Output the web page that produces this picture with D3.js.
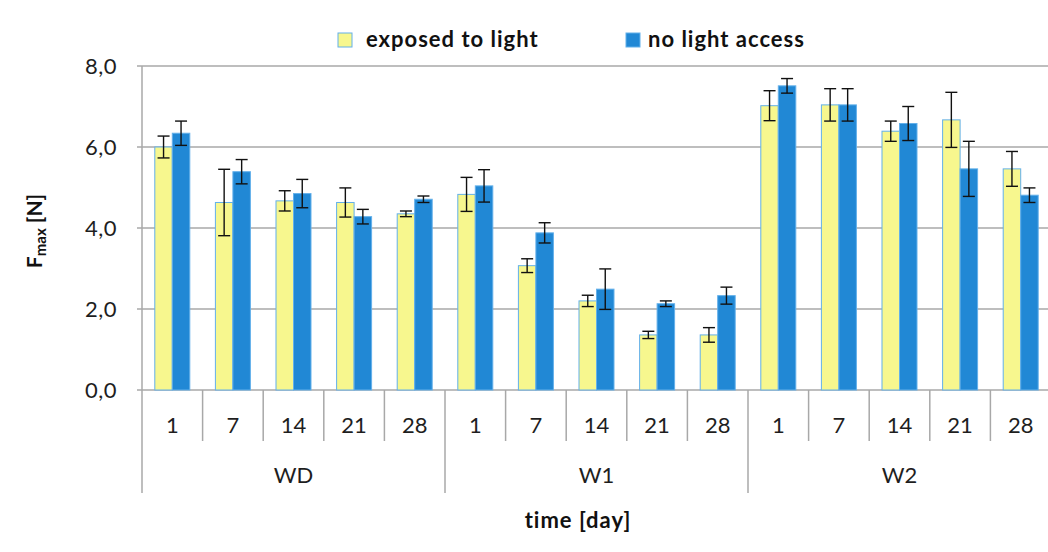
<!DOCTYPE html>
<html>
<head>
<meta charset="utf-8">
<script src="https://cdn.jsdelivr.net/npm/d3@7"></script>
<style>
  html, body { margin: 0; padding: 0; background: #fff; }
  svg { display: block; font-family: Lato, "Open Sans", sans-serif; }
</style>
</head>
<body>
<svg id="chart" width="1048" height="552"></svg>
<script>
// ---- data ----
const groups = ["WD", "W1", "W2"];
const days = ["1", "7", "14", "21", "28"];
const seriesNames = ["exposed to light", "no light access"];
const exposed    = [6.00, 4.63, 4.67, 4.63, 4.35, 4.83, 3.07, 2.20, 1.36, 1.36, 7.02, 7.04, 6.39, 6.67, 5.46];
const exposedErr = [0.27, 0.82, 0.25, 0.36, 0.07, 0.42, 0.17, 0.14, 0.09, 0.18, 0.37, 0.40, 0.25, 0.68, 0.43];
const dark       = [6.34, 5.39, 4.85, 4.28, 4.71, 5.04, 3.88, 2.49, 2.13, 2.33, 7.51, 7.04, 6.58, 5.46, 4.81];
const darkErr    = [0.30, 0.30, 0.35, 0.18, 0.08, 0.40, 0.25, 0.50, 0.07, 0.21, 0.18, 0.40, 0.42, 0.68, 0.18];
const yTicks = [0, 2, 4, 6, 8];

(function () {
// ---- layout ----
const svg = d3.select("#chart");
const pL = 142, pR = 1051, pT = 66, pB = 390;
const gridColor = "#a8a8a8";
const colors = ["#f7f78e", "#2188d5"];
const strokeColor = "#63b0ea";

const slots = [];
groups.forEach(g => days.forEach(d => slots.push(g + "|" + d)));

const x = d3.scaleBand().domain(slots).range([pL, pR]).padding(0);
const xs = d3.scaleBand().domain([0, 1]).range([12.8, 47.8]).padding(0);
const y = d3.scaleLinear().domain([0, 8]).range([pB, pT]);
const fmt = v => d3.format(".1f")(v).replace(".", ",");

// gridlines
svg.append("g").selectAll("line").data(yTicks).join("line")
  .attr("x1", pL - 5).attr("x2", pR)
  .attr("y1", d => y(d)).attr("y2", d => y(d))
  .attr("stroke", gridColor).attr("stroke-width", 1.5);

// y tick labels
svg.append("g").selectAll("text").data(yTicks).join("text")
  .attr("x", 117).attr("y", d => y(d)).attr("dy", "0.35em")
  .attr("text-anchor", "end").attr("font-size", 22).attr("letter-spacing", 0.5).attr("fill", "#1e1e1e")
  .text(fmt);

// left axis line (extends down to group label area)
svg.append("line").attr("x1", pL).attr("x2", pL)
  .attr("y1", pT).attr("y2", 493).attr("stroke", gridColor).attr("stroke-width", 1.5);

// category separators
const bw = x.bandwidth();
svg.append("g").selectAll("line").data(slots.map((s, i) => i + 1)).join("line")
  .attr("x1", i => pL + i * bw).attr("x2", i => pL + i * bw)
  .attr("y1", pB)
  .attr("y2", i => (i % days.length === 0) ? 493 : 441)
  .attr("stroke", gridColor).attr("stroke-width", 1.5);

// bars
const rows = slots.map((s, i) => ({ slot: s, vals: [exposed[i], dark[i]], errs: [exposedErr[i], darkErr[i]] }));
const barData = [];
rows.forEach(r => r.vals.forEach((v, k) => barData.push({ slot: r.slot, k, v, e: r.errs[k] })));

svg.append("g").selectAll("rect").data(barData).join("rect")
  .attr("x", d => x(d.slot) + xs(d.k))
  .attr("width", xs.bandwidth())
  .attr("y", d => y(d.v))
  .attr("height", d => y(0) - y(d.v))
  .attr("fill", d => colors[d.k])
  .attr("stroke", strokeColor).attr("stroke-width", 1);

// error bars
const eb = svg.append("g").attr("stroke", "#111").attr("stroke-width", 1.4);
barData.forEach(d => {
  const cx = x(d.slot) + xs(d.k) + xs.bandwidth() / 2;
  eb.append("line").attr("x1", cx).attr("x2", cx).attr("y1", y(d.v + d.e)).attr("y2", y(d.v - d.e));
  eb.append("line").attr("x1", cx - 6).attr("x2", cx + 6).attr("y1", y(d.v + d.e)).attr("y2", y(d.v + d.e));
  eb.append("line").attr("x1", cx - 6).attr("x2", cx + 6).attr("y1", y(d.v - d.e)).attr("y2", y(d.v - d.e));
});

// day labels
svg.append("g").selectAll("text").data(slots).join("text")
  .attr("x", s => x(s) + bw / 2).attr("y", 433)
  .attr("text-anchor", "middle").attr("font-size", 22).attr("fill", "#1e1e1e")
  .text(s => s.split("|")[1]);

// group labels
svg.append("g").selectAll("text").data(groups).join("text")
  .attr("x", (g, i) => pL + (i + 0.5) * bw * days.length).attr("y", 483)
  .attr("text-anchor", "middle").attr("font-size", 22).attr("fill", "#1e1e1e")
  .text(g => g);

// x axis title
svg.append("text").attr("x", 578).attr("y", 528)
  .attr("text-anchor", "middle").attr("font-size", 22).attr("letter-spacing", 1).attr("font-weight", "bold").attr("fill", "#111")
  .text("time [day]");

// y axis title
const yt = svg.append("text").attr("transform", "translate(42,231) rotate(-90)")
  .attr("text-anchor", "middle").attr("font-size", 21).attr("font-weight", "bold").attr("fill", "#111");
yt.append("tspan").text("F");
yt.append("tspan").attr("font-size", 15).attr("dy", 4).text("max");
yt.append("tspan").attr("dy", -4).text(" [N]");

// legend
const legendX = [338, 626];
const legendTextX = [366, 648];
const lg = svg.append("g");
seriesNames.forEach((name, k) => {
  lg.append("rect").attr("x", legendX[k]).attr("y", 33).attr("width", 14).attr("height", 14)
    .attr("fill", colors[k]).attr("stroke", strokeColor).attr("stroke-width", 1);
  lg.append("text").attr("x", legendTextX[k]).attr("y", 47)
    .attr("font-size", 22).attr("letter-spacing", 1).attr("font-weight", "bold").attr("fill", "#111").text(name);
});
})();
</script>
</body>
</html>
